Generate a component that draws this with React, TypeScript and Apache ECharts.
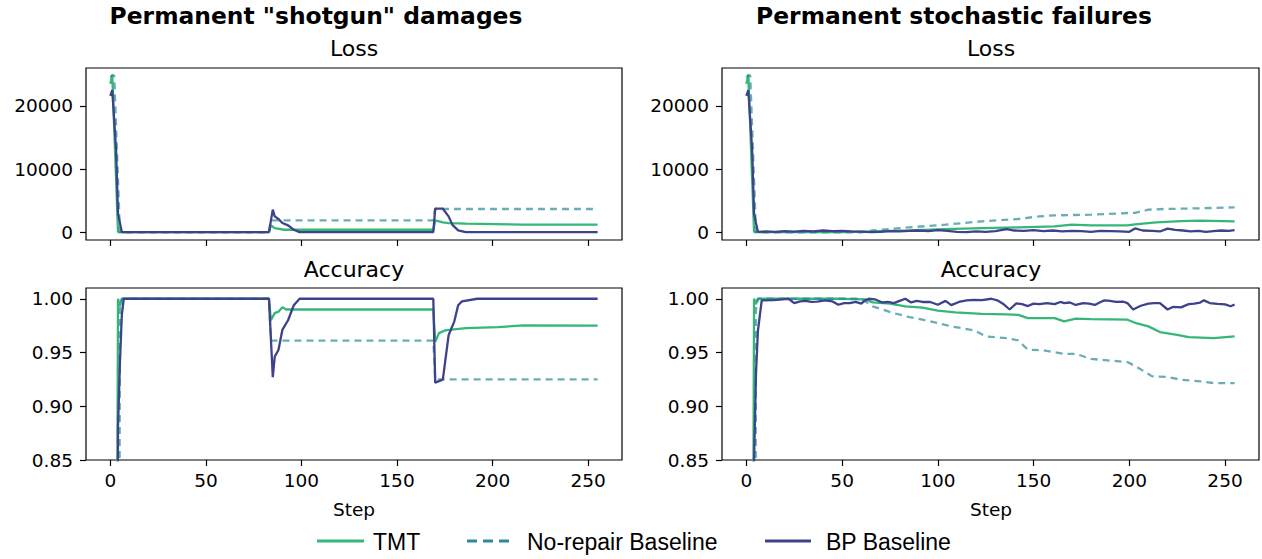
import React, { useEffect, useRef } from "react";
import * as echarts from "echarts";

type P = [number, number][];

// ---------- data (step, value) ----------
const X_TICKS = [0, 50, 100, 150, 200, 250];
const LOSS_TICKS = [0, 10000, 20000];
const ACC_TICKS = [0.85, 0.9, 0.95, 1.0];

const seriesNames = ["TMT", "No-repair Baseline", "BP Baseline"];
const panelTitles = ['Permanent "shotgun" damages', "Permanent stochastic failures"];
const subTitles = ["Loss", "Accuracy"];

const shotgunLossTMT: P = [[0,23500],[1,24900],[4,60],[83,60],[84,1100],[86,690],[91,420],[169,420],[170,1900],[174,1590],[177,1480],[186,1375],[216,1220],[255,1220]];
const shotgunLossNoRepair: P = [[0,24500],[1,24900],[2,24800],[5,0],[83,0],[84,1900],[169,1900],[170,3700],[255,3700]];
const shotgunLossBP: P = [[0,21600],[1,22500],[3,13000],[4,3000],[5,1500],[6,50],[83,50],[85,3600],[86,2540],[88,2120],[90,1480],[93,1110],[96,420],[99,50],[169,50],[170,3750],[174,3750],[177,2540],[179,1200],[182,320],[186,50],[255,50]];

const shotgunAccTMT: P = [[0,0.1],[2,0.1],[3,0.5],[4,1.0],[5,0.993],[6,1.0],[83,1.0],[84,0.98],[86,0.9866],[88,0.988],[90,0.992],[92,0.99],[169,0.99],[170,0.96],[172,0.968],[175,0.9705],[181,0.9717],[186,0.9727],[203,0.9736],[216,0.9752],[255,0.975]];
const shotgunAccNoRepair: P = [[0,0.1],[4,0.1],[5,0.99],[6,1.0],[83,1.0],[84,0.961],[169,0.961],[170,0.925],[255,0.925]];
const shotgunAccBP: P = [[0,0.1],[3,0.3],[4,0.88],[5,0.94],[6,0.985],[7,1.0],[83,1.0],[85,0.927],[86,0.946],[88,0.9525],[90,0.971],[93,0.98],[96,0.994],[99,1.0],[169,1.0],[170,0.922],[173,0.924],[174,0.925],[177,0.966],[180,0.979],[182,0.994],[184,0.9975],[192,1.0],[255,1.0]];

const stochLossTMT: P = [[0,23500],[1,24900],[4,60],[50,60],[66,160],[85,320],[104,530],[123,690],[142,800],[161,950],[170,1220],[180,1110],[199,1110],[203,1270],[214,1590],[227,1800],[237,1850],[255,1750]];
const stochLossNoRepair: P = [[0,24500],[1,24900],[2,24800],[5,0],[60,0],[66,320],[85,800],[104,1220],[123,1750],[142,2120],[153,2540],[161,2700],[180,2800],[199,3070],[203,3100],[210,3600],[218,3700],[237,3810],[255,3970]];
const stochLossBP: P = [[0,21600],[1,22500],[3,13000],[4,3000],[5,1500],[6,100],[10,150],[15,80],[20,200],[25,120],[30,250],[35,150],[40,300],[45,200],[50,250],[55,150],[60,120],[65,50],[70,100],[75,200],[80,150],[85,250],[90,300],[95,200],[100,350],[105,250],[110,100],[115,50],[120,150],[125,100],[130,200],[136,530],[140,300],[145,250],[150,350],[155,200],[160,300],[165,150],[170,250],[175,200],[180,100],[185,250],[190,200],[195,150],[200,100],[203,635],[207,300],[212,250],[216,150],[220,600],[224,400],[228,300],[232,150],[236,250],[240,100],[244,200],[248,300],[252,250],[255,370]];

const stochAccTMT: P = [[0,0.1],[2,0.1],[3,0.5],[4,1.0],[5,0.995],[6,1.0],[47,1.0],[62,0.9995],[66,0.9966],[75,0.9955],[83,0.9929],[92,0.9917],[100,0.989],[109,0.9873],[123,0.986],[136,0.9855],[142,0.985],[147,0.982],[161,0.982],[166,0.979],[172,0.9815],[180,0.981],[199,0.9805],[204,0.977],[210,0.9743],[216,0.969],[225,0.9665],[231,0.9643],[244,0.9634],[255,0.965]];
const stochAccNoRepair: P = [[0,0.1],[4,0.1],[5,0.99],[6,1.0],[60,1.0],[66,0.9929],[77,0.9866],[85,0.983],[92,0.9805],[100,0.9774],[107,0.9743],[119,0.9706],[125,0.965],[136,0.9634],[142,0.9612],[147,0.9526],[155,0.952],[166,0.9488],[172,0.9488],[180,0.944],[199,0.9411],[204,0.9365],[212,0.9278],[220,0.9272],[227,0.9247],[237,0.9232],[244,0.9216],[255,0.9216]];
const stochAccBP: P = [[0,0.1],[3,0.3],[4,0.85],[5,0.93],[6,0.97],[8,0.9985],[14,0.9988],[19,0.9995],[22,1.0],[25,0.996],[28,0.9975],[31,0.998],[34,0.997],[37,0.9973],[41,0.9985],[45,0.9975],[48,0.9944],[51,0.996],[54,0.996],[57,0.997],[60,0.9955],[62,0.9985],[64,1.0],[67,0.9995],[71,0.9965],[74,0.997],[77,0.996],[80,0.998],[83,1.0],[86,0.9966],[89,0.998],[92,0.997],[96,0.997],[100,0.9944],[104,0.998],[107,0.9941],[111,0.997],[115,0.9985],[119,0.999],[123,0.9988],[128,1.0],[131,0.9985],[134,0.9954],[137.5,0.99],[141,0.9957],[144,0.995],[147,0.9932],[150,0.9955],[153,0.995],[157,0.996],[161,0.995],[164,0.997],[166,0.996],[169,0.9965],[172,0.9942],[176,0.996],[179,0.9955],[182,0.9942],[185,0.997],[187,0.9985],[190,0.998],[193,0.997],[197,0.9972],[199,0.996],[202,0.99],[206,0.9935],[210,0.9955],[213,0.996],[216,0.996],[220,0.99],[223,0.9925],[227,0.992],[231,0.995],[234,0.9955],[237,0.9965],[239,0.9985],[242,0.996],[246,0.9953],[250,0.9947],[253,0.993],[255,0.9947]];

// ---------- styling ----------
const COLORS = ["#35b779", "#2a8a98", "#3e4289"];
const X_MIN = -12.75, X_MAX = 267.75;
const LOSS_MIN = -1200, LOSS_MAX = 26000;
const ACC_MIN = 0.85, ACC_MAX = 1.01;
const FONT = "DejaVu Sans";

const GRIDS = [
  { left: 86, top: 68, width: 536, height: 172 },
  { left: 86, top: 288, width: 536, height: 172 },
  { left: 722, top: 68, width: 537, height: 172 },
  { left: 722, top: 288, width: 537, height: 172 },
];

export default function App() {
  const ref = useRef<HTMLDivElement>(null);
  useEffect(() => {
    if (!ref.current) return;
    const chart = echarts.init(ref.current, null, { renderer: "svg" });

    const panels: { data: P[]; loss: boolean }[] = [
      { data: [shotgunLossTMT, shotgunLossNoRepair, shotgunLossBP], loss: true },
      { data: [shotgunAccTMT, shotgunAccNoRepair, shotgunAccBP], loss: false },
      { data: [stochLossTMT, stochLossNoRepair, stochLossBP], loss: true },
      { data: [stochAccTMT, stochAccNoRepair, stochAccBP], loss: false },
    ];

    const tickStyle = { show: true, inside: false, length: 6, lineStyle: { color: "#000", width: 1.2 } };
    const labelStyle = { color: "#000", fontFamily: FONT, fontSize: 18.5 };

    const xAxis = panels.map((p, i) => ({
      type: "value",
      gridIndex: i,
      min: X_MIN,
      max: X_MAX,
      splitLine: { show: false },
      axisLine: { show: false, onZero: false },
      axisTick: { ...tickStyle, customValues: X_TICKS },
      axisLabel: { show: !p.loss, customValues: X_TICKS, margin: 11, ...labelStyle },
    }));
    const yAxis = panels.map((p, i) => ({
      type: "value",
      gridIndex: i,
      min: p.loss ? LOSS_MIN : ACC_MIN,
      max: p.loss ? LOSS_MAX : ACC_MAX,
      splitLine: { show: false },
      axisLine: { show: false, onZero: false },
      axisTick: { ...tickStyle, customValues: p.loss ? LOSS_TICKS : ACC_TICKS },
      axisLabel: {
        customValues: p.loss ? LOSS_TICKS : ACC_TICKS,
        margin: 13,
        formatter: (v: number) => (p.loss ? String(Math.round(v)) : v.toFixed(2)),
        ...labelStyle,
      },
    }));

    const series: any[] = [];
    panels.forEach((p, i) => {
      p.data.forEach((d, k) => {
        series.push({
          type: "line",
          name: seriesNames[k],
          xAxisIndex: i,
          yAxisIndex: i,
          data: d,
          symbol: "none",
          showSymbol: false,
          clip: true,
          z: 2 + k,
          lineStyle: {
            color: COLORS[k],
            width: 2.3,
            type: k === 1 ? [7, 5] : "solid",
            opacity: k === 1 ? 0.7 : 1,
          },
        });
      });
    });

    const centers = [354, 991];
    const text = (x: number, y: number, t: string, size: number, weight = "normal", family = FONT, align = "center") => ({
      type: "text",
      x,
      y,
      style: { text: t, fill: "#000", font: `${weight} ${size}px "${family}"`, textAlign: align, textVerticalAlign: "middle" },
    });

    const graphic: any[] = [
      text(316, 16, panelTitles[0], 23.4, "bold"),
      text(954, 16, panelTitles[1], 23.4, "bold"),
      text(centers[0], 48, subTitles[0], 22),
      text(centers[1], 48, subTitles[0], 22),
      text(centers[0], 269, subTitles[1], 22),
      text(centers[1], 269, subTitles[1], 22),
      text(centers[0], 509, "Step", 18.5),
      text(centers[1], 509, "Step", 18.5),
    ];
    const legendItems = [
      { x1: 317, x2: 364, tx: 373 },
      { x1: 467, x2: 510, tx: 527 },
      { x1: 765, x2: 811, tx: 826 },
    ];
    legendItems.forEach((it, k) => {
      graphic.push({
        type: "line",
        shape: { x1: it.x1, y1: 541, x2: it.x2, y2: 541 },
        style: { stroke: COLORS[k], lineWidth: 3, lineDash: k === 1 ? [10, 6] : null },
      });
      graphic.push(text(it.tx, 542, seriesNames[k], 23, "normal", "Liberation Sans", "left"));
    });

    chart.setOption({
      animation: false,
      backgroundColor: "#fff",
      grid: GRIDS.map((g) => ({ ...g, show: true, borderColor: "#000", borderWidth: 1.2, backgroundColor: "transparent", containLabel: false })),
      xAxis,
      yAxis,
      series,
      graphic,
    });
    return () => chart.dispose();
  }, []);

  return <div ref={ref} style={{ position: "fixed", left: 0, top: 0, width: 1262, height: 559 }} />;
}
